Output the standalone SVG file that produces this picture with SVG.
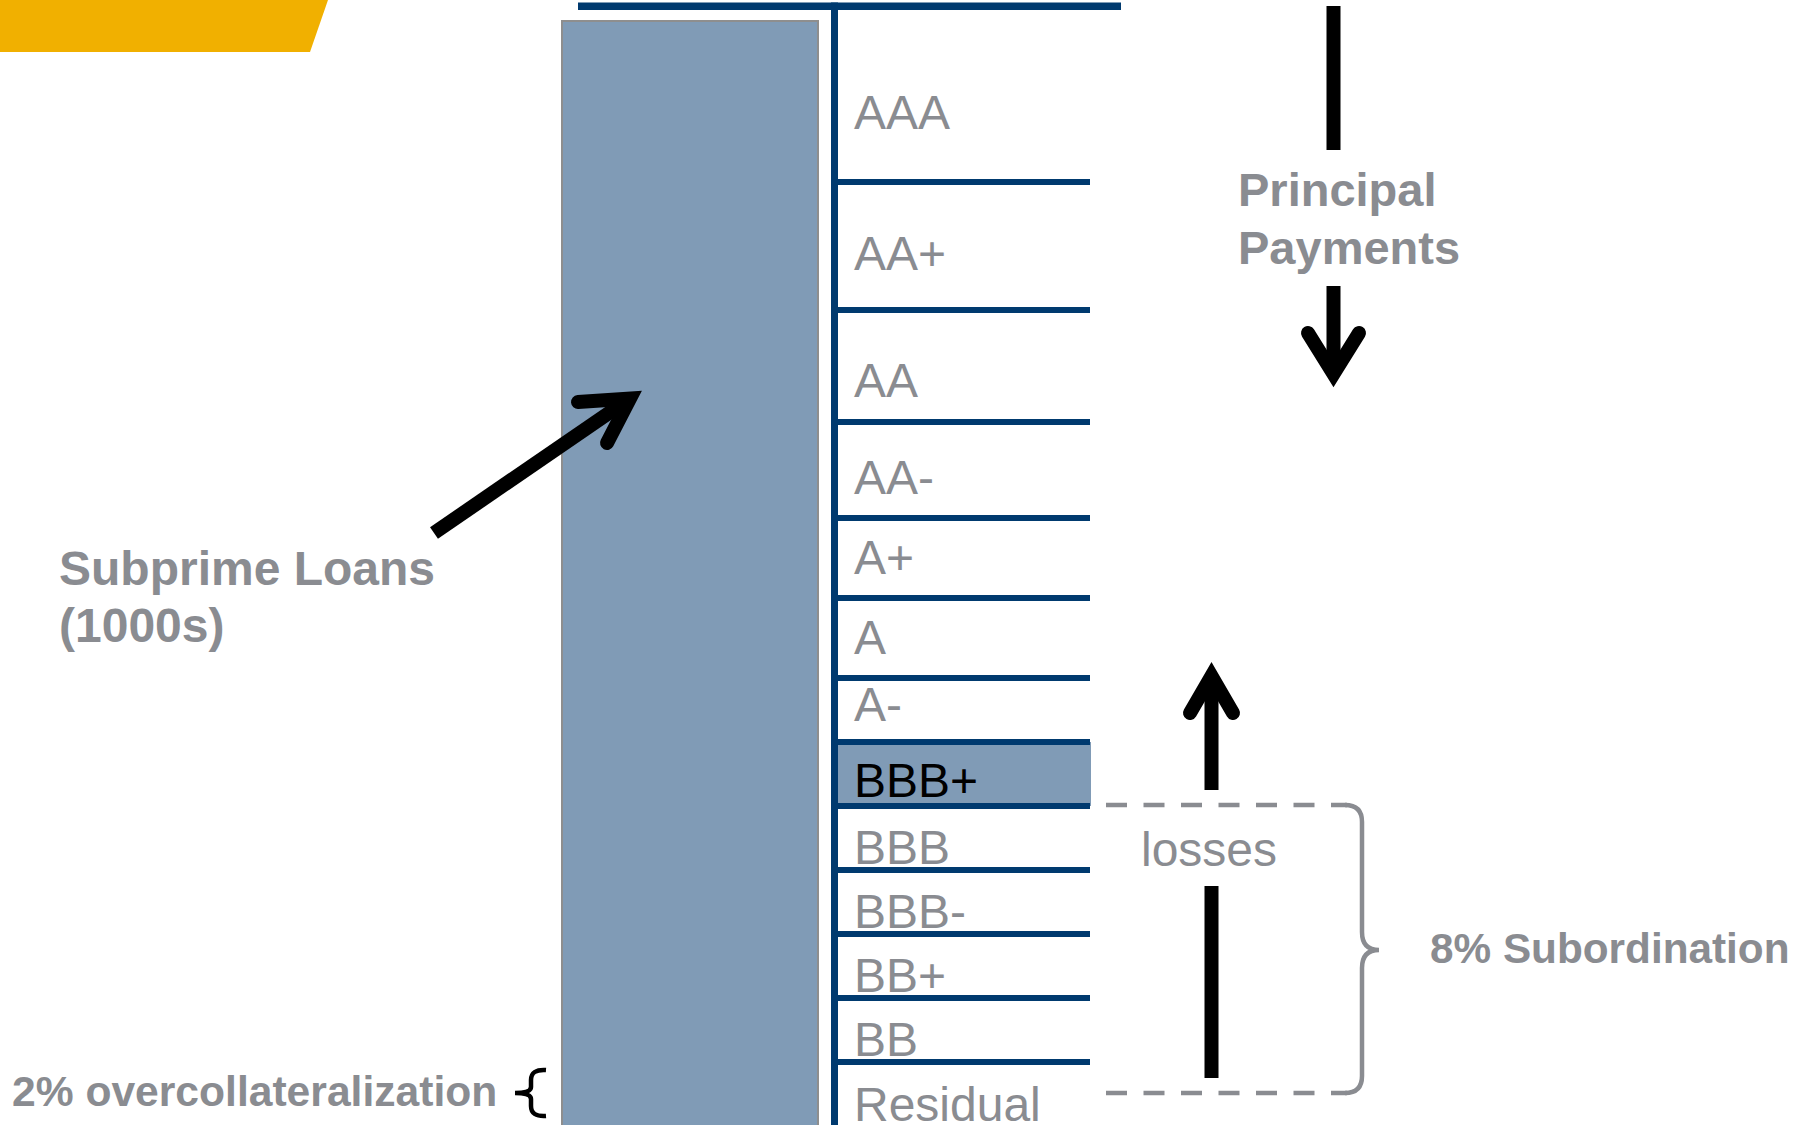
<svg xmlns="http://www.w3.org/2000/svg" width="1806" height="1125" viewBox="0 0 1806 1125">
<style>
.tr{font-family:"Liberation Sans",Arial,sans-serif;font-size:48px;fill:#8a8c91}
.lb{font-family:"Liberation Sans",Arial,sans-serif;font-weight:bold;fill:#8a8c91}
.nv{fill:#003a6f}
.ar{stroke:#000;stroke-width:14;fill:none;stroke-linecap:round;stroke-linejoin:miter;stroke-miterlimit:10}
.sh{stroke:#000;stroke-width:14;fill:none;stroke-linecap:butt}
</style>
<rect width="1806" height="1125" fill="#fff"/>
<polygon points="0,0 328,0 310,52 0,52" fill="#f1b000"/>

<g id="pool">
<rect x="562" y="21" width="256" height="1110" fill="#809bb6" stroke="#8e8e8e" stroke-width="2"/>
</g>

<g id="tranches">
<rect class="nv" x="578" y="2.5" width="543" height="7.5"/>
<rect class="nv" x="831" y="2.5" width="7" height="1123"/>
<rect x="838" y="742" width="253" height="64" fill="#809bb6"/>
<rect class="nv" x="838" y="179" width="252" height="6"/>
<rect class="nv" x="838" y="307" width="252" height="6"/>
<rect class="nv" x="838" y="419" width="252" height="6"/>
<rect class="nv" x="838" y="515" width="252" height="6"/>
<rect class="nv" x="838" y="595" width="252" height="6"/>
<rect class="nv" x="838" y="675" width="252" height="6"/>
<rect class="nv" x="838" y="739" width="252" height="6"/>
<rect class="nv" x="838" y="803" width="252" height="6"/>
<rect class="nv" x="838" y="867" width="252" height="6"/>
<rect class="nv" x="838" y="931" width="252" height="6"/>
<rect class="nv" x="838" y="995" width="252" height="6"/>
<rect class="nv" x="838" y="1059" width="252" height="6"/>
<text class="tr" x="854" y="129">AAA</text>
<text class="tr" x="854" y="270">AA+</text>
<text class="tr" x="854" y="397">AA</text>
<text class="tr" x="854" y="494">AA-</text>
<text class="tr" x="854" y="574">A+</text>
<text class="tr" x="854" y="654">A</text>
<text class="tr" x="854" y="721">A-</text>
<text class="tr" x="854" y="797" style="fill:#000">BBB+</text>
<text class="tr" x="854" y="864">BBB</text>
<text class="tr" x="854" y="928">BBB-</text>
<text class="tr" x="854" y="992">BB+</text>
<text class="tr" x="854" y="1056">BB</text>
<text class="tr" x="854" y="1121">Residual</text>
</g>

<g id="labels">
<text class="lb" x="59" y="585" font-size="48">Subprime Loans</text>
<text class="lb" x="59" y="642" font-size="48">(1000s)</text>
<text class="lb" x="1238" y="206" font-size="47">Principal</text>
<text class="lb" x="1238" y="264" font-size="47">Payments</text>
<text class="tr" x="1141" y="866">losses</text>
<text class="lb" x="1430" y="963" font-size="42.3">8% Subordination</text>
<text class="lb" x="12" y="1106" font-size="42.6">2% overcollateralization</text>
</g>

<g id="connectors">
<path class="sh" d="M434 533 L630 398.5"/>
<path class="ar" d="M578 402 L630 398.5 L607 443"/>
<path class="sh" d="M1333.5 6 L1333.5 150"/>
<path class="sh" d="M1333.5 286 L1333.5 372"/>
<path class="ar" d="M1308 333 L1333.5 374 L1359 333"/>
<path class="sh" d="M1211.5 790 L1211.5 680"/>
<path class="ar" d="M1190 713 L1211.5 676 L1233 713"/>
<path class="sh" d="M1211.5 1078 L1211.5 886"/>
<path d="M1106 805 L1347 805 M1106 1093 L1347 1093" stroke="#8a8c91" stroke-width="4.5" stroke-dasharray="21 16.5" fill="none"/>
<path d="M1345 805 Q1362 805 1362 822 L1362 932 Q1362 950 1379 950 Q1362 950 1362 968 L1362 1076 Q1362 1093 1345 1093" stroke="#8a8c91" stroke-width="4.5" fill="none"/>
<path d="M546 1070 Q531 1069 531 1080 L531 1087 Q531 1093 515 1093 Q531 1093 531 1099 L531 1106 Q531 1117 546 1116" stroke="#000" stroke-width="4.5" fill="none"/>
</g>
</svg>
